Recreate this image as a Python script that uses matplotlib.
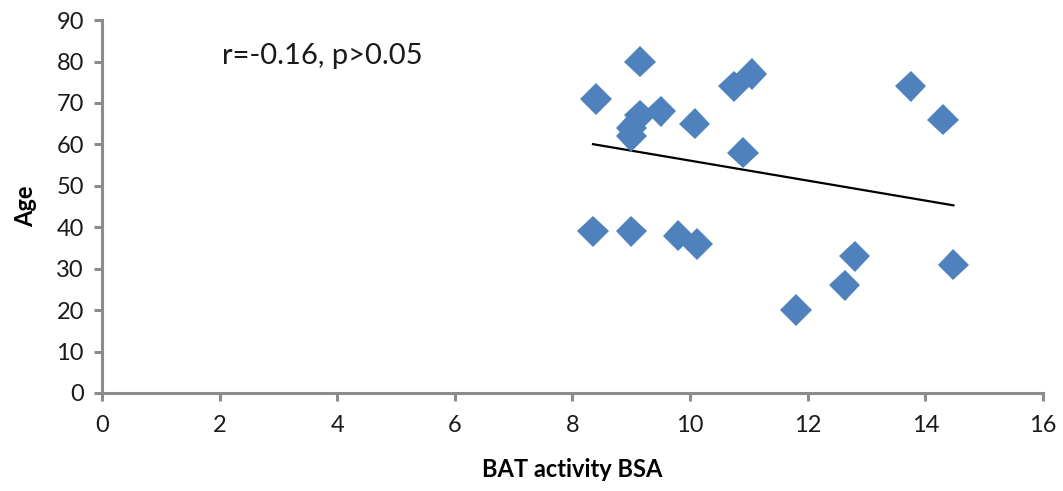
import numpy as np
import matplotlib
matplotlib.use("Agg")
import matplotlib.pyplot as plt
import matplotlib.patheffects as pe

# BAT activity (BSA) vs. age
bat_activity = [9.15, 8.40, 9.50, 9.15, 9.00, 9.00, 10.08, 10.75, 11.05, 10.90,
                8.35, 9.00, 9.80, 10.12, 13.75, 14.30, 12.80, 12.63, 11.80, 14.48]
age = [80, 71, 68, 67, 64, 62, 65, 74, 77, 58,
       39, 39, 38, 36, 74, 66, 33, 26, 20, 31]

x_ticks = [0, 2, 4, 6, 8, 10, 12, 14, 16]
y_ticks = [0, 10, 20, 30, 40, 50, 60, 70, 80, 90]
stat_text = "r=-0.16, p>0.05"

plt.rcParams['font.family'] = ['Lato', 'DejaVu Sans']

fig = plt.figure(figsize=(10.63, 4.91), dpi=100)
ax = fig.add_axes([0.096, 0.1996, 0.885, 0.7594])

x = np.array(bat_activity)
y = np.array(age)

# least-squares trend line over the data range
slope, intercept = np.polyfit(x, y, 1)
xs = np.array([x.min(), x.max()])
ax.plot(xs, slope * xs + intercept, color='black', lw=1.6, zorder=2)

ax.plot(x, y, linestyle='none', marker='D', ms=16, color='#4F81BD',
        markeredgewidth=0, zorder=3,
        path_effects=[pe.SimpleLineShadow(offset=(1.5, -1.5), shadow_color='#9aa7b8', alpha=0.5),
                      pe.Normal()])

ax.set_xlim(0, 16)
ax.set_ylim(0, 90)
ax.set_xticks(x_ticks)
ax.set_yticks(y_ticks)

gray = '#8c8c8c'
for side in ['top', 'right']:
    ax.spines[side].set_visible(False)
for side in ['left', 'bottom']:
    ax.spines[side].set_color(gray)
    ax.spines[side].set_linewidth(2.2)
ax.tick_params(axis='both', direction='out', length=6, width=2.2, color=gray,
               labelsize=17, labelcolor='#1a1a1a')
ax.tick_params(axis='x', pad=10)
ax.tick_params(axis='y', pad=7)

ax.set_xlabel('BAT activity BSA', fontsize=17, fontweight='bold', labelpad=16)
ax.set_ylabel('Age', fontsize=17, fontweight='bold', labelpad=14)

ax.text(0.128, 0.905, stat_text, transform=ax.transAxes, fontsize=21,
        color='#1a1a1a', va='center', ha='left')

fig.savefig('out.png', dpi=100)
